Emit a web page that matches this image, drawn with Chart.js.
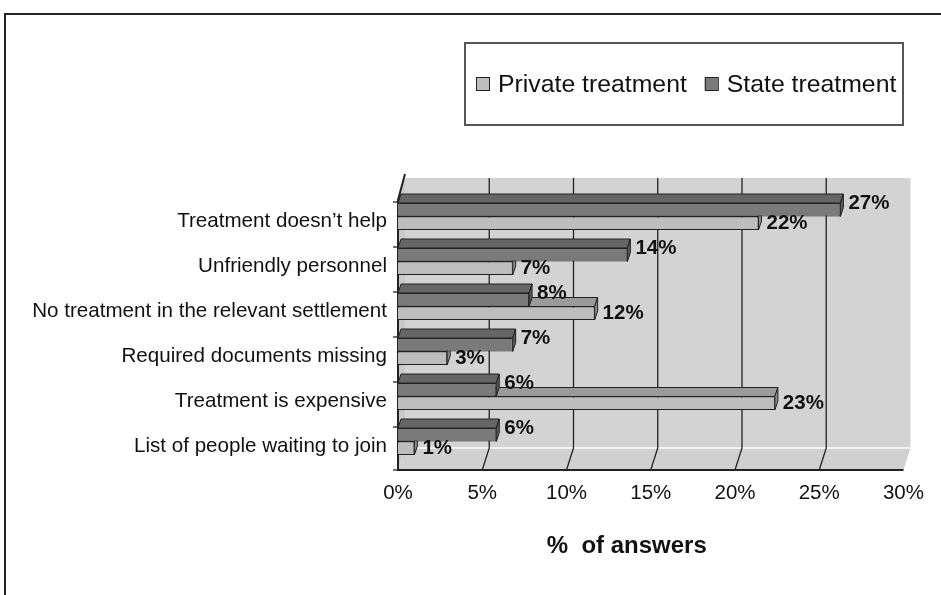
<!DOCTYPE html>
<html>
<head>
<meta charset="utf-8">
<script src="https://cdn.jsdelivr.net/npm/chart.js@4.4.0/dist/chart.umd.min.js"></script>
<style>
  html, body { margin: 0; padding: 0; background: #fff; }
</style>
</head>
<body>
<canvas id="answersChart" width="941" height="595"></canvas>
<script>
const categories = [
  "Treatment doesn’t help",
  "Unfriendly personnel",
  "No treatment in the relevant settlement",
  "Required documents missing",
  "Treatment is expensive",
  "List of people waiting to join",
];
const stateValues = [27, 14, 8, 7, 6, 6];
const privateValues = [22, 7, 12, 3, 23, 1];
const seriesNames = ["State treatment", "Private treatment"];
const xTicks = [0, 5, 10, 15, 20, 25, 30];
const axisTitle = "%  of answers";

// 3d look of the old excel chart
const wallDx = 7;
const wallTop = 178;
const wallBottom = 448;
const floorFront = 470;
const barDx = 3;
const barDy = 9;

const frame3d = {
  id: "frame3d",
  beforeDraw(chart) {
    const ctx = chart.ctx;
    ctx.save();
    ctx.fillStyle = "#fff";
    ctx.fillRect(0, 0, chart.width, chart.height);
    ctx.strokeStyle = "#222";
    ctx.lineWidth = 2;
    ctx.beginPath();
    ctx.moveTo(5, chart.height);
    ctx.lineTo(5, 14);
    ctx.lineTo(chart.width, 14);
    ctx.stroke();
    ctx.restore();
  },
  beforeDatasetsDraw(chart) {
    const ctx = chart.ctx;
    const xs = chart.scales.x2;
    const ys = chart.scales.y;
    const left = xs.getPixelForValue(xs.min);
    const right = xs.getPixelForValue(xs.max);
    const frontTop = wallTop + (floorFront - wallBottom);
    ctx.save();

    // back wall
    ctx.fillStyle = "#d3d3d3";
    ctx.fillRect(left + wallDx, wallTop, right - left, wallBottom - wallTop);
    // left wall
    ctx.fillStyle = "#c9c9c9";
    ctx.beginPath();
    ctx.moveTo(left, frontTop);
    ctx.lineTo(left + wallDx, wallTop);
    ctx.lineTo(left + wallDx, wallBottom);
    ctx.lineTo(left, floorFront);
    ctx.closePath();
    ctx.fill();
    // floor
    ctx.fillStyle = "#d0d0d0";
    ctx.beginPath();
    ctx.moveTo(left + wallDx, wallBottom);
    ctx.lineTo(right + wallDx, wallBottom);
    ctx.lineTo(right, floorFront);
    ctx.lineTo(left, floorFront);
    ctx.closePath();
    ctx.fill();
    ctx.strokeStyle = "#f2f2f2";
    ctx.lineWidth = 2;
    ctx.beginPath();
    ctx.moveTo(left + wallDx, wallBottom);
    ctx.lineTo(right + wallDx, wallBottom);
    ctx.stroke();

    // grid lines on wall and floor
    ctx.strokeStyle = "#222";
    ctx.lineWidth = 1.3;
    xs.ticks.forEach((t) => {
      if (t.value <= xs.min || t.value >= xs.max) return;
      const px = xs.getPixelForValue(t.value);
      ctx.beginPath();
      ctx.moveTo(px + wallDx, wallTop);
      ctx.lineTo(px + wallDx, wallBottom);
      ctx.lineTo(px, floorFront);
      ctx.stroke();
    });

    // axis lines
    ctx.lineWidth = 2;
    ctx.beginPath();
    ctx.moveTo(left + wallDx, wallTop - 4);
    ctx.lineTo(left, frontTop);
    ctx.lineTo(left, floorFront);
    ctx.lineTo(right, floorFront);
    ctx.stroke();

    // category ticks
    const half = (ys.getPixelForValue(1) - ys.getPixelForValue(0)) / 2;
    ctx.lineWidth = 1.3;
    ys.ticks.forEach((t, i) => {
      const py = ys.getPixelForValue(i) - half + 8;
      ctx.beginPath();
      ctx.moveTo(left - 5, py);
      ctx.lineTo(left, py);
      ctx.stroke();
    });
    ctx.beginPath();
    ctx.moveTo(left - 5, floorFront);
    ctx.lineTo(left, floorFront);
    ctx.stroke();
    ctx.restore();
  },
  afterDatasetDraw(chart, args) {
    const ctx = chart.ctx;
    const ds = chart.data.datasets[args.index];
    ctx.save();
    ctx.strokeStyle = "#222";
    ctx.lineWidth = 1;
    args.meta.data.forEach((el) => {
      const { x, y, base, height } = el.getProps(["x", "y", "base", "height"], true);
      const x0 = Math.min(x, base);
      const x1 = Math.max(x, base);
      const top = y - height / 2;
      const bottom = y + height / 2;
      // top face
      ctx.fillStyle = ds.topColor;
      ctx.beginPath();
      ctx.moveTo(x0, top);
      ctx.lineTo(x1, top);
      ctx.lineTo(x1 + barDx, top - barDy);
      ctx.lineTo(x0 + barDx, top - barDy);
      ctx.closePath();
      ctx.fill();
      ctx.stroke();
      // side face
      ctx.fillStyle = ds.sideColor;
      ctx.beginPath();
      ctx.moveTo(x1, top);
      ctx.lineTo(x1 + barDx, top - barDy);
      ctx.lineTo(x1 + barDx, bottom - barDy);
      ctx.lineTo(x1, bottom);
      ctx.closePath();
      ctx.fill();
      ctx.stroke();
    });
    ctx.restore();
  },
  afterDatasetsDraw(chart) {
    const ctx = chart.ctx;
    ctx.save();
    ctx.fillStyle = "#111";
    ctx.font = "bold 20.5px 'Liberation Sans', Arial, sans-serif";
    ctx.textAlign = "left";
    ctx.textBaseline = "middle";
    chart.data.datasets.forEach((ds, i) => {
      chart.getDatasetMeta(i).data.forEach((el, j) => {
        ctx.fillText(ds.data[j] + "%", el.x + 8, el.y + ds.labelShift);
      });
    });
    ctx.restore();
  },
  afterDraw(chart) {
    const ctx = chart.ctx;
    const xs = chart.scales.x2;
    ctx.save();
    // axis title, sits a bit left of the plot centre like the original
    ctx.fillStyle = "#111";
    ctx.font = "bold 24px 'Liberation Sans', Arial, sans-serif";
    ctx.textAlign = "center";
    ctx.textBaseline = "middle";
    ctx.fillText(axisTitle, (xs.left + xs.right) / 2 - 24, 546);

    // legend box
    ctx.strokeStyle = "#555";
    ctx.lineWidth = 2;
    ctx.strokeRect(465, 43, 438, 82);
    ctx.font = "24.8px 'Liberation Sans', Arial, sans-serif";
    ctx.textAlign = "left";
    const items = chart.data.datasets.slice().reverse();
    let lx = 476;
    items.forEach((ds) => {
      ctx.fillStyle = ds.backgroundColor;
      ctx.fillRect(lx, 77, 13, 13);
      ctx.strokeStyle = "#222";
      ctx.lineWidth = 1;
      ctx.strokeRect(lx + 0.5, 77.5, 13, 13);
      ctx.fillStyle = "#111";
      ctx.fillText(ds.label, lx + 22, 85);
      lx += 22 + ctx.measureText(ds.label).width + 18;
    });
    ctx.restore();
  },
};

Chart.defaults.font.family = "'Liberation Sans', Arial, sans-serif";
Chart.defaults.color = "#111";

const ctx = document.getElementById("answersChart").getContext("2d");
const answersChart = new Chart(ctx, {
  type: "bar",
  data: {
    labels: categories,
    datasets: [
      {
        label: seriesNames[0],
        data: stateValues,
        backgroundColor: "#7a7a7a",
        topColor: "#666666",
        sideColor: "#5a5a5a",
        labelShift: -6,
        borderColor: "#222",
        borderWidth: 1,
        xAxisID: "x",
      },
      {
        label: seriesNames[1],
        data: privateValues,
        backgroundColor: "#bdbdbd",
        topColor: "#9a9a9a",
        sideColor: "#8a8a8a",
        labelShift: 0,
        borderColor: "#222",
        borderWidth: 1,
        xAxisID: "x",
      },
    ],
  },
  options: {
    indexAxis: "y",
    responsive: false,
    animation: false,
    devicePixelRatio: 1,
    categoryPercentage: 0.6,
    barPercentage: 1,
    layout: { padding: { left: 0, top: 194, right: 34, bottom: 0 } },
    plugins: {
      legend: { display: false },
      tooltip: { enabled: false },
    },
    scales: {
      // bars sit a bit deeper than the wall, so their scale is shorter
      x: { display: false, min: 0, max: 30.85 },
      x2: {
        type: "linear",
        position: "bottom",
        min: xTicks[0],
        max: xTicks[xTicks.length - 1],
        afterBuildTicks: (scale) => {
          scale.ticks = xTicks.map((v) => ({ value: v }));
        },
        afterFit: (scale) => {
          scale.height = 131;
        },
        grid: { display: false, drawTicks: false },
        border: { display: false },
        ticks: {
          padding: 17,
          font: { size: 20.5 },
          color: "#111",
          callback: (v) => v + "%",
        },
      },
      y: {
        afterFit: (scale) => {
          scale.width = 398;
        },
        grid: { display: false, drawTicks: false },
        border: { display: false },
        ticks: {
          padding: 11,
          labelOffset: 5,
          autoSkip: false,
          font: { size: 20.6 },
          color: "#111",
        },
      },
    },
  },
  plugins: [frame3d],
});
</script>
</body>
</html>
